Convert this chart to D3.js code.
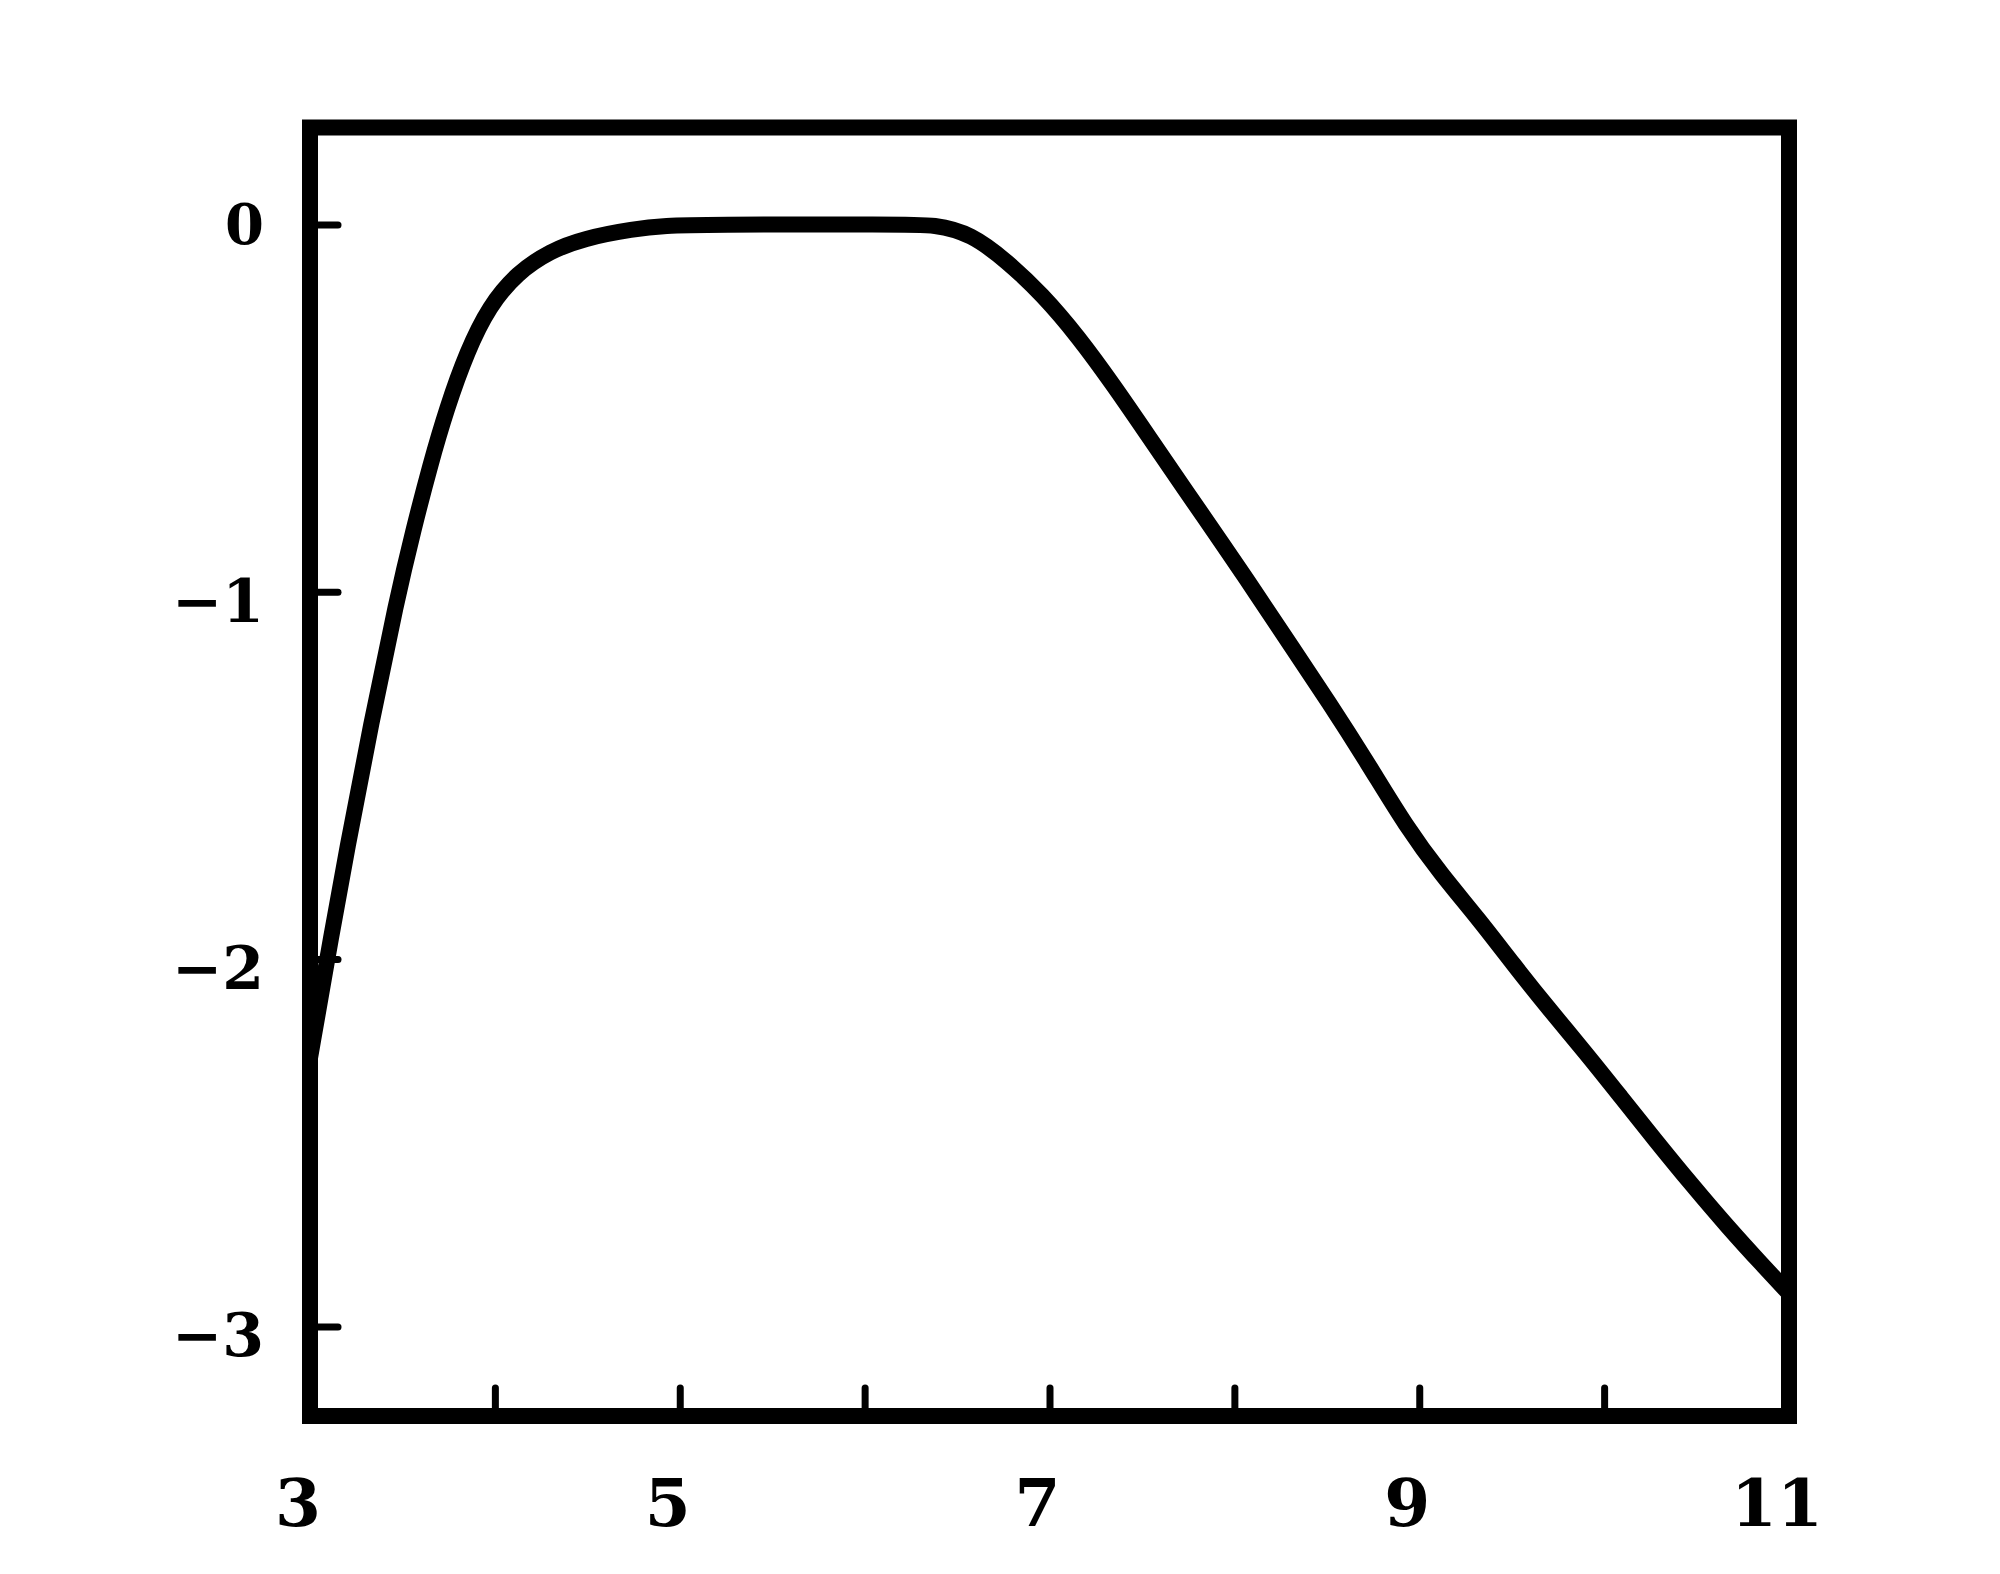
<!DOCTYPE html>
<html>
<head>
<meta charset="utf-8">
<script src="https://cdn.jsdelivr.net/npm/d3@7"></script>
<style>
  html, body { margin: 0; padding: 0; background: #fff; }
  svg { display: block; }
</style>
</head>
<body>
<svg id="chart" width="2000" height="1574"></svg>
<script>
// ---- data ----
const curveX = [3.00, 3.10, 3.20, 3.33, 3.47, 3.56, 3.65, 3.74, 3.85, 3.97, 4.12, 4.30, 4.48, 4.75, 4.93, 5.11, 6.19, 6.38, 6.575, 6.77, 6.96, 7.155, 7.35, 7.54, 7.73, 7.93, 8.12, 8.31, 8.51, 8.72, 8.93, 9.12, 9.32, 9.51, 9.70, 9.90, 10.09, 10.28, 10.475, 10.67, 10.86, 11.00];
const curveY = [-2.27, -1.98, -1.70, -1.36, -1.02, -0.83, -0.655, -0.50, -0.345, -0.222, -0.132, -0.072, -0.038, -0.012, -0.003, 0, 0, 0, -0.025, -0.10, -0.19, -0.305, -0.44, -0.58, -0.72, -0.865, -1.006, -1.15, -1.30, -1.465, -1.64, -1.77, -1.89, -2.015, -2.135, -2.255, -2.375, -2.495, -2.615, -2.73, -2.835, -2.91];
const xTickValues = [4, 5, 6, 7, 8, 9, 10];
const xLabelValues = [3, 5, 7, 9, 11];
const xLabelTexts = ["3", "5", "7", "9", "11"];
const yTickValues = [0, -1, -2, -3];
const yLabelTexts = ["0", "\u22121", "\u22122", "\u22123"];
const xDomain = [3, 11];
const yDomain = [-3.244, 0.264];

(function () {
  const svg = d3.select("#chart");
  const mLeft = 310, mRight = 1789, mTop = 127.5, mBottom = 1416;
  const x = d3.scaleLinear().domain(xDomain).range([mLeft, mRight]);
  const y = d3.scaleLinear().domain(yDomain).range([mBottom, mTop]);

  const points = curveX.map((v, i) => [v, curveY[i]]);

  // ticks (inward)
  const gx = svg.append("g").attr("transform", `translate(0,${mBottom})`)
    .call(d3.axisBottom(x).tickValues(xTickValues).tickSize(-28).tickFormat(""));
  gx.select(".domain").remove();
  gx.selectAll("line").attr("stroke", "#000").attr("stroke-width", 7).attr("stroke-linecap", "round");

  const gy = svg.append("g").attr("transform", `translate(${mLeft},0)`)
    .call(d3.axisLeft(y).tickValues(yTickValues).tickSize(-28).tickFormat(""));
  gy.select(".domain").remove();
  gy.selectAll("line").attr("stroke", "#000").attr("stroke-width", 7).attr("stroke-linecap", "round");

  // frame
  svg.append("rect")
    .attr("x", x(xDomain[0])).attr("y", y(yDomain[1]))
    .attr("width", x(xDomain[1]) - x(xDomain[0]))
    .attr("height", y(yDomain[0]) - y(yDomain[1]))
    .attr("fill", "none").attr("stroke", "#000").attr("stroke-width", 16);

  // curve
  const line = d3.line().x(d => x(d[0])).y(d => y(d[1])).curve(d3.curveBasis);
  svg.append("path").datum(points)
    .attr("d", line)
    .attr("fill", "none").attr("stroke", "#000").attr("stroke-width", 16)
    .attr("stroke-linejoin", "round").attr("stroke-linecap", "round");

  // labels
  const font = "'DejaVu Serif', 'Liberation Serif', serif";
  svg.append("g").selectAll("text").data(xLabelValues).join("text")
    .attr("x", d => x(d) - 12)
    .attr("y", mBottom + 110)
    .attr("text-anchor", "middle")
    .attr("font-family", font).attr("font-weight", "bold").attr("font-size", 66)
    .text((d, i) => xLabelTexts[i]);

  svg.append("g").selectAll("text").data(yTickValues).join("text")
    .attr("x", mLeft - 46)
    .attr("y", d => y(d) + (d === 0 ? 0 : 9))
    .attr("dy", "0.35em")
    .attr("text-anchor", "end")
    .attr("font-family", font).attr("font-weight", "bold")
    .attr("font-size", d => d === 0 ? 56 : 60)
    .text((d, i) => yLabelTexts[i]);
})();
</script>
</body>
</html>
